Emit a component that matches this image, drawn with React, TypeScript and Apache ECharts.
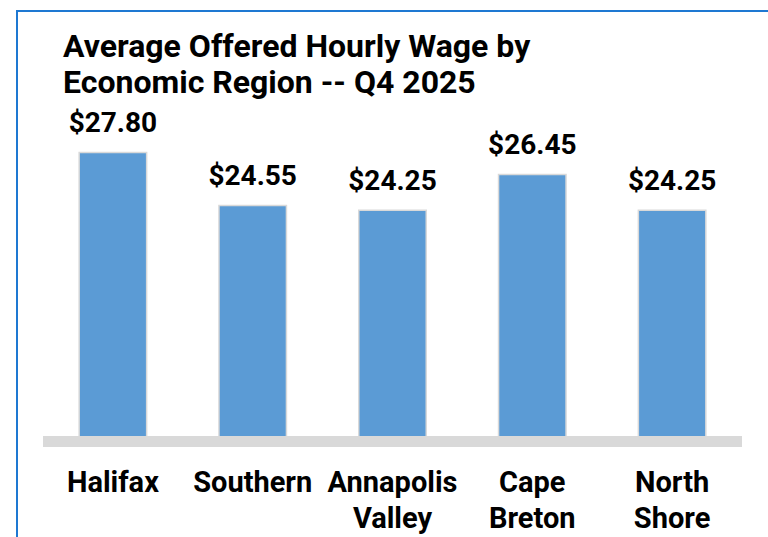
import React, { useEffect, useRef } from "react";
import * as echarts from "echarts";

const categories = ["Halifax", "Southern", "Annapolis\nValley", "Cape\nBreton", "North\nShore"];
const wages = [27.8, 24.55, 24.25, 26.45, 24.25];
const titleText = "Average Offered Hourly Wage by\nEconomic Region -- Q4 2025";

export default function App() {
  const ref = useRef<HTMLDivElement>(null);
  useEffect(() => {
    document.body.style.margin = "0";
    document.body.style.overflow = "hidden";
    const chart = echarts.init(ref.current!, null, { renderer: "svg" });
    chart.setOption({
      animation: false,
      backgroundColor: "#ffffff",
      title: {
        text: titleText,
        left: 63,
        top: 28,
        padding: 0,
        textStyle: {
          fontFamily: "Roboto",
          fontWeight: "bold",
          fontSize: 32,
          lineHeight: 36,
          color: "#000000",
        },
      },
      graphic: [
        {
          type: "rect",
          shape: { x: 17, y: 11, width: 800, height: 600 },
          style: { fill: "none", stroke: "#1e78d2", lineWidth: 2 },
          silent: true,
        },
      ],
      grid: { left: 43, right: 26, top: 116, bottom: 95.5 },
      xAxis: {
        type: "category",
        data: categories,
        z: 5,
        axisLine: { show: true, lineStyle: { color: "#d9d9d9", width: 11, cap: "butt" } },
        axisTick: { show: false },
        axisLabel: {
          margin: 22,
          fontFamily: "Roboto",
          fontWeight: "bold",
          fontSize: 29,
          lineHeight: 36,
          color: "#000000",
          interval: 0,
        },
      },
      yAxis: {
        type: "value",
        min: 10,
        max: 30,
        show: false,
        splitLine: { show: false },
      },
      series: [
        {
          type: "bar",
          data: wages,
          barWidth: 69,
          itemStyle: { color: "#5b9bd5", borderColor: "#d9d9d9", borderWidth: 1.5 },
          label: {
            show: true,
            position: "top",
            distance: 15,
            formatter: (p: any) => "$" + p.value.toFixed(2),
            fontFamily: "Roboto",
            fontWeight: "bold",
            fontSize: 28,
            color: "#000000",
          },
        },
      ],
    });
    return () => chart.dispose();
  }, []);
  return <div ref={ref} style={{ width: 768, height: 537 }} />;
}
